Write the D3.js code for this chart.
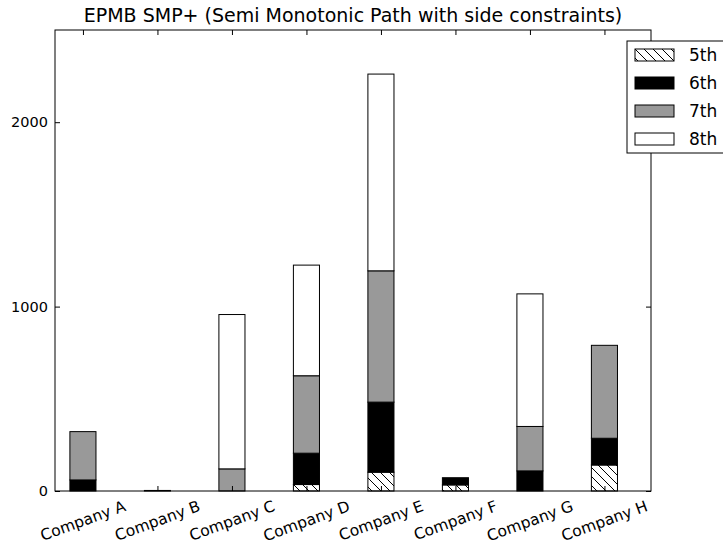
<!DOCTYPE html>
<html>
<head>
<meta charset="utf-8">
<script src="https://cdn.jsdelivr.net/npm/d3@7"></script>
<style>
  body { margin: 0; background: #fff; }
  text { font-family: "DejaVu Sans", sans-serif; fill: #000; }
</style>
</head>
<body>
<svg id="chart" width="723" height="548"></svg>
<script>
// Data
const companies = ["Company A", "Company B", "Company C", "Company D", "Company E", "Company F", "Company G", "Company H"];
const seriesNames = ["5th", "6th", "7th", "8th"];
const fifth   = [0, 0, 0, 35, 102, 33, 0, 141];
const sixth   = [60, 0, 0, 170, 380, 39, 109, 145];
const seventh = [262, 3, 120, 420, 712, 0, 241, 504];
const eighth  = [0, 0, 837, 600, 1067, 0, 719, 0];
const yTicks = [0, 1000, 2000];

const rows = companies.map((c, i) => ({
  company: c, i: i,
  "5th": fifth[i], "6th": sixth[i], "7th": seventh[i], "8th": eighth[i]
}));

const svg = d3.select("#chart"),
      margin = { top: 30, right: 72, bottom: 57, left: 55 },
      width = +svg.attr("width"),
      height = +svg.attr("height"),
      innerWidth = width - margin.left - margin.right,
      innerHeight = height - margin.top - margin.bottom;

// Scales
const x = d3.scaleLinear().domain([0, 8]).range([0, innerWidth]);
const y = d3.scaleLinear().domain([0, 2500]).range([innerHeight, 0]);
const barW = 0.35, offset = 0.2;
const center = i => x(i + offset + barW / 2);

// Hatch pattern for the 5th series
const defs = svg.append("defs");
defs.append("pattern")
  .attr("id", "hatch")
  .attr("patternUnits", "userSpaceOnUse")
  .attr("width", 9).attr("height", 9)
  .call(p => {
    p.append("rect").attr("width", 9).attr("height", 9).attr("fill", "#fff");
    p.append("path").attr("d", "M0,0 L9,9 M-4.5,4.5 L4.5,13.5 M4.5,-4.5 L13.5,4.5")
      .attr("stroke", "#000").attr("stroke-width", 1);
  });

const fills = { "5th": "url(#hatch)", "6th": "#000", "7th": "#999999", "8th": "#fff" };

const g = svg.append("g").attr("transform", `translate(${margin.left},${margin.top})`);

// Stacked bars
const stacked = d3.stack().keys(seriesNames)(rows);
g.selectAll(".layer")
  .data(stacked)
  .join("g")
  .attr("class", "layer")
  .attr("fill", d => fills[d.key])
  .selectAll("rect")
  .data(d => d)
  .join("rect")
  .attr("x", d => x(d.data.i + offset))
  .attr("width", x(barW) - x(0))
  .attr("y", d => y(d[1]))
  .attr("height", d => y(d[0]) - y(d[1]))
  .attr("stroke", "#000")
  .attr("stroke-width", 1);

// Axes (ticks point inward)
const centers = companies.map((c, i) => i + offset + barW / 2);
g.append("g")
  .call(d3.axisLeft(y).tickValues(yTicks).tickFormat(d3.format("d"))
    .tickSizeInner(-5).tickSizeOuter(0).tickPadding(7))
  .call(a => a.select(".domain").remove())
  .call(a => a.selectAll("text").style("font-size", "14.5px").style("font-family", "DejaVu Sans"));
g.append("g")
  .attr("transform", `translate(${innerWidth},0)`)
  .call(d3.axisRight(y).tickValues(yTicks).tickSizeInner(-5).tickSizeOuter(0).tickFormat(""))
  .call(a => a.select(".domain").remove());
g.append("g")
  .attr("transform", `translate(0,${innerHeight})`)
  .call(d3.axisBottom(x).tickValues(centers).tickSizeInner(-5).tickSizeOuter(0).tickFormat(""))
  .call(a => a.select(".domain").remove());
g.append("g")
  .call(d3.axisTop(x).tickValues(centers).tickSizeInner(-5).tickSizeOuter(0).tickFormat(""))
  .call(a => a.select(".domain").remove());

// Frame
g.append("rect")
  .attr("width", innerWidth).attr("height", innerHeight)
  .attr("fill", "none").attr("stroke", "#000").attr("stroke-width", 1);

// Rotated category labels
const angle = 20, labelSize = 15.5;
g.selectAll(".xlabel")
  .data(companies)
  .join("text")
  .attr("class", "xlabel")
  .style("font-size", labelSize + "px")
  .attr("text-anchor", "middle")
  .attr("dy", "0.35em")
  .text(d => d)
  .attr("transform", function(d, i) {
    const w = this.getComputedTextLength(), h = labelSize;
    const bh = w * Math.sin(angle * Math.PI / 180) + h * Math.cos(angle * Math.PI / 180);
    return `translate(${center(i)},${innerHeight + 7 + bh / 2}) rotate(${-angle})`;
  });

// Title
svg.append("text")
  .attr("x", margin.left + innerWidth / 2)
  .attr("y", 22)
  .attr("text-anchor", "middle")
  .style("font-size", "19px")
  .text("EPMB SMP+ (Semi Monotonic Path with side constraints)");

// Legend
const legend = svg.append("g").attr("transform", "translate(627,41)");
legend.append("rect")
  .attr("width", 110).attr("height", 112)
  .attr("fill", "#fff").attr("stroke", "#000").attr("stroke-width", 1);
const item = legend.selectAll(".item")
  .data(seriesNames)
  .join("g")
  .attr("class", "item")
  .attr("transform", (d, i) => `translate(8,${8 + i * 28})`);
item.append("rect")
  .attr("width", 39).attr("height", 12)
  .attr("fill", d => fills[d])
  .attr("stroke", "#000").attr("stroke-width", 1);
item.append("text")
  .attr("x", 54).attr("y", 6).attr("dy", "0.35em")
  .style("font-size", "17px")
  .text(d => d);
</script>
</body>
</html>
